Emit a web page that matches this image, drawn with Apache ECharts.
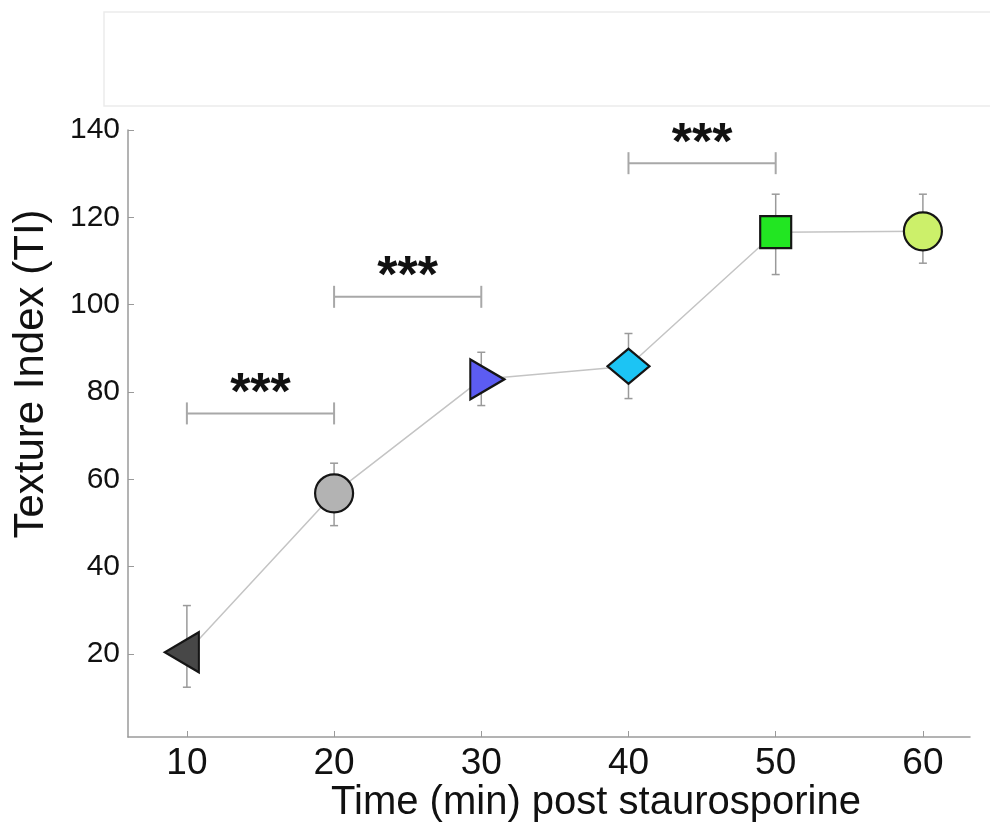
<!DOCTYPE html>
<html>
<head>
<meta charset="utf-8">
<script src="https://cdn.jsdelivr.net/npm/echarts@6/dist/echarts.min.js"></script>
<style>
html,body{margin:0;padding:0;background:#fff;}
#chart{width:990px;height:835px;}
</style>
</head>
<body>
<div id="chart"></div>
<script>
// ---- data ----
const times = [10, 20, 30, 40, 50, 60];
const meanTI = [20.4, 56.8, 82.9, 85.9, 116.6, 116.8];
const errLow = [12.4, 49.4, 76.9, 78.5, 106.9, 109.5];
const errHigh = [31.1, 63.7, 89.1, 93.4, 125.3, 125.3];
const sigPairs = [[10, 20], [20, 30], [40, 50]];
const sigLevels = [75.1, 101.8, 132.4];
const sigLabels = ['***', '***', '***'];
const xTicks = [10, 20, 30, 40, 50, 60];
const yTicks = [20, 40, 60, 80, 100, 120, 140];
const xTitle = 'Time (min) post staurosporine';
const yTitle = 'Texture Index (TI)';

// ---- styles ----
const markerSymbols = ['triangle', 'circle', 'triangle', 'diamond', 'rect', 'circle'];
const markerSizes = [[40, 34], 38, [40, 34], [42, 35], [31, 32], 38];
const markerRotate = [90, 0, -90, 0, 0, 0];
const markerOffsets = [[-5, 0], [0, 0], [6, 0], [0, 0], [0, 0], [0, 0]];
const markerColors = ['#474747', '#b3b3b3', '#5c5cf2', '#1cc4f4', '#22e622', '#ccf06a'];

const FONT = '"Liberation Sans", Arial, sans-serif';

const lineData = times.map((t, i) => ({
  value: [t, meanTI[i]],
  symbol: markerSymbols[i],
  symbolSize: markerSizes[i],
  symbolRotate: markerRotate[i],
  symbolOffset: markerOffsets[i],
  itemStyle: { color: markerColors[i], borderColor: '#151515', borderWidth: 2.2 }
}));

const errData = times.map((t, i) => [t, errLow[i], errHigh[i]]);
const sigData = sigPairs.map((p, i) => [p[0], p[1], sigLevels[i]]);

const chart = echarts.init(document.getElementById('chart'), null, { renderer: 'canvas' });

chart.setOption({
  animation: false,
  backgroundColor: '#fff',
  grid: { left: 128, top: 130, width: 842, bottom: 98, containLabel: false },
  xAxis: {
    type: 'value', min: 6, max: 63.2,
    axisLine: { show: true, lineStyle: { color: '#9a9a9a', width: 1.5 } },
    axisTick: { show: true, inside: true, length: 6, customValues: xTicks, lineStyle: { color: '#9a9a9a' } },
    axisLabel: { customValues: xTicks, margin: 27, verticalAlign: 'middle', fontSize: 37, fontFamily: FONT, color: '#111' },
    splitLine: { show: false }
  },
  yAxis: {
    type: 'value', min: 1, max: 140,
    axisLine: { show: true, lineStyle: { color: '#9a9a9a', width: 1.5 } },
    axisTick: { show: true, inside: true, length: 6, customValues: yTicks, lineStyle: { color: '#9a9a9a' } },
    axisLabel: { customValues: yTicks, margin: 8, fontSize: 30, fontFamily: FONT, color: '#111' },
    splitLine: { show: false }
  },
  graphic: [
    { type: 'rect', z: -10, shape: { x: 104, y: 12, width: 900, height: 94 },
      style: { fill: '#fff', stroke: '#ebebeb', lineWidth: 1.5 } },
    { type: 'text', x: 596, y: 803,
      style: { text: xTitle, font: '40px ' + FONT, fill: '#111', textAlign: 'center', textVerticalAlign: 'middle', align: 'center', verticalAlign: 'middle' } },
    { type: 'text', x: 31, y: 374, rotation: Math.PI / 2,
      style: { text: yTitle, font: '42px ' + FONT, fill: '#111', textAlign: 'center', textVerticalAlign: 'middle', align: 'center', verticalAlign: 'middle' } }
  ],
  series: [
    {
      type: 'custom', name: 'error', z: 1,
      data: errData,
      renderItem: function (params, api) {
        const x = api.value(0);
        const lo = api.coord([x, api.value(1)]);
        const hi = api.coord([x, api.value(2)]);
        const cw = 4;
        const st = { stroke: '#9a9a9a', lineWidth: 1.5 };
        return {
          type: 'group',
          children: [
            { type: 'line', shape: { x1: lo[0], y1: lo[1], x2: hi[0], y2: hi[1] }, style: st },
            { type: 'line', shape: { x1: lo[0] - cw, y1: lo[1], x2: lo[0] + cw, y2: lo[1] }, style: st },
            { type: 'line', shape: { x1: hi[0] - cw, y1: hi[1], x2: hi[0] + cw, y2: hi[1] }, style: st }
          ]
        };
      }
    },
    {
      type: 'line', name: 'TI', z: 2,
      data: lineData,
      showAllSymbol: true,
      lineStyle: { color: '#c4c4c4', width: 1.5 },
      emphasis: { disabled: true }
    },
    {
      type: 'custom', name: 'sig', z: 3,
      data: sigData,
      renderItem: function (params, api) {
        const a = api.coord([api.value(0), api.value(2)]);
        const b = api.coord([api.value(1), api.value(2)]);
        const th = 11;
        const st = { stroke: '#a8a8a8', lineWidth: 2 };
        const label = sigLabels[params.dataIndex];
        return {
          type: 'group',
          children: [
            { type: 'line', shape: { x1: a[0], y1: a[1], x2: b[0], y2: b[1] }, style: st },
            { type: 'line', shape: { x1: a[0], y1: a[1] - th, x2: a[0], y2: a[1] + th }, style: st },
            { type: 'line', shape: { x1: b[0], y1: b[1] - th, x2: b[0], y2: b[1] + th }, style: st },
            { type: 'text', x: (a[0] + b[0]) / 2, y: a[1] - 19,
              style: { text: label, font: 'bold 52px ' + FONT, fill: '#111', align: 'center', verticalAlign: 'middle', textAlign: 'center', textVerticalAlign: 'middle' } }
          ]
        };
      }
    }
  ]
});
</script>
</body>
</html>
